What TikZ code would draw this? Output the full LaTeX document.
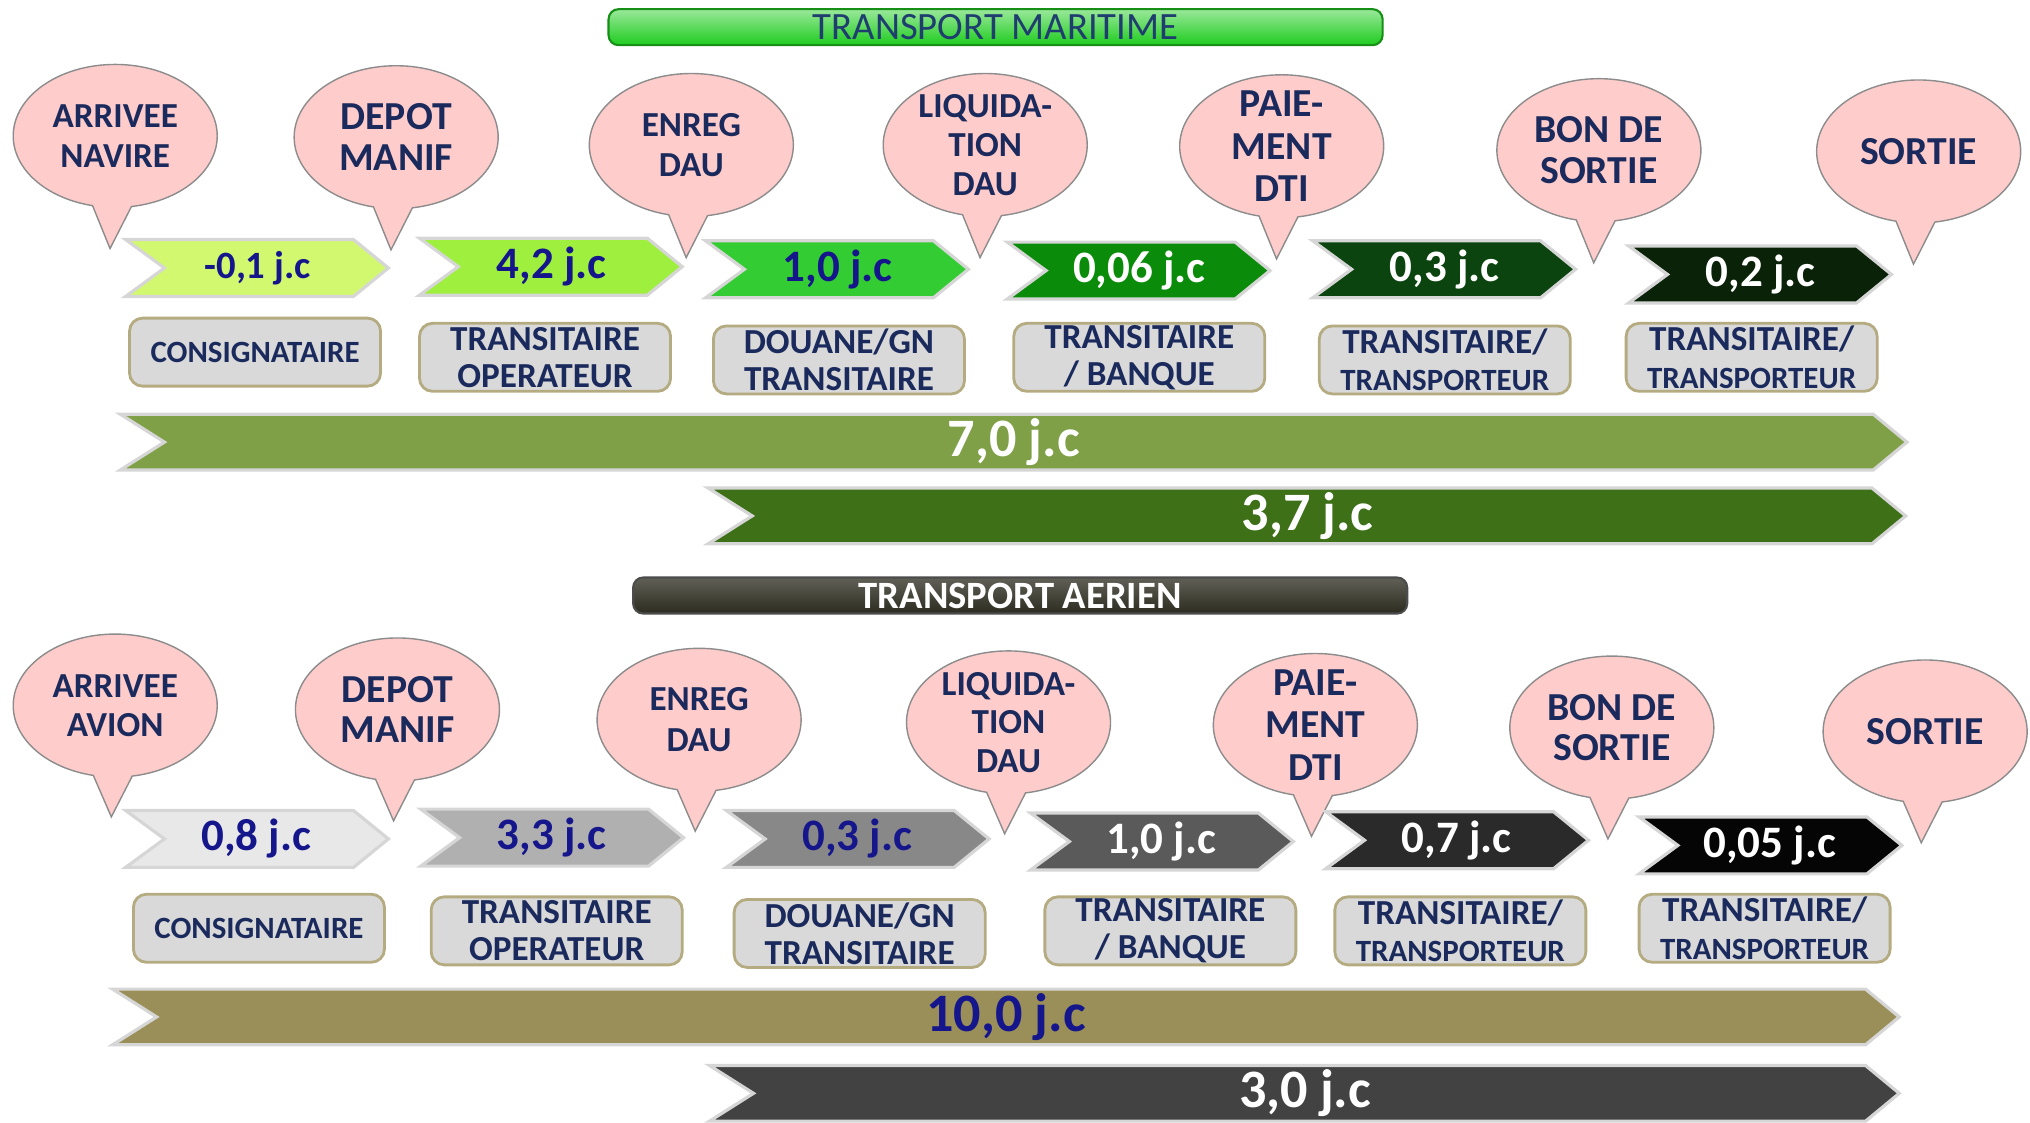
\documentclass[tikz,border=0pt]{standalone}
\usepackage{fontspec}
\setmainfont{Carlito}
\usetikzlibrary{shapes.callouts}

\definecolor{bubblepink}{HTML}{FFCCCC}
\definecolor{bubbleline}{HTML}{8C8C8C}
\definecolor{navy}{HTML}{1B2A5C}
\definecolor{jcblue}{HTML}{16168C}
\definecolor{boxfill}{HTML}{D9D9D9}
\definecolor{boxline}{HTML}{B5AB80}
% maritime steps
\definecolor{mar1}{HTML}{D2F870}
\definecolor{mar2}{HTML}{9FEF3F}
\definecolor{mar3}{HTML}{33CC33}
\definecolor{mar4}{HTML}{0A8C0A}
\definecolor{mar5}{HTML}{0C4410}
\definecolor{mar6}{HTML}{0A2208}
\definecolor{martot}{HTML}{80A048}
\definecolor{marcut}{HTML}{3E7018}
% aerien steps
\definecolor{aer1}{HTML}{E8E8E8}
\definecolor{aer2}{HTML}{B0B0B0}
\definecolor{aer3}{HTML}{888888}
\definecolor{aer4}{HTML}{5A5A5A}
\definecolor{aer5}{HTML}{2A2A2A}
\definecolor{aer6}{HTML}{050505}
\definecolor{aertot}{HTML}{9A8F58}
\definecolor{aercut}{HTML}{424242}
\definecolor{margreen}{HTML}{1ECC1E}
\definecolor{martext}{HTML}{1F3D6E}
\definecolor{aerdark}{HTML}{2B2B1F}

\begin{document}
\begin{tikzpicture}[
		x=0.12946mm,
		y=-0.12946mm,
		every node/.style={font=\bfseries},
		bubble/.style={ellipse callout, draw=bubbleline, fill=bubblepink, line width=0.4pt,
			minimum width=20.4mm, minimum height=14.3mm, inner sep=0pt, callout pointer arc=22},
		bubble text/.style={text=navy, align=center, inner sep=0pt},
		chevron/.style={draw=black!16, line width=0.9pt},
		step label/.style={inner sep=0pt},
		actor/.style={draw=boxline, fill=boxfill, rounded corners=1.3mm, line width=0.8pt,
			minimum width=25.1mm, minimum height=6.8mm, inner sep=0pt, text=navy, align=center,
			font=\bfseries\fontsize{10}{10.6}\selectfont},
		title bar/.style={rounded corners=1mm, minimum width=77.4mm, minimum height=3.6mm,
			inner sep=0pt, line width=0.6pt}
		]
	\useasboundingbox (0,0) rectangle (1568,867);

	% Titles
	\node[title bar, draw=margreen!70!black, top color=margreen!45!white, bottom color=margreen,
		text=martext, font=\fontsize{11}{11}\selectfont] (tmar) at (769,21) {TRANSPORT MARITIME};
	\node[title bar, draw=black!70, top color=aerdark!75!white, bottom color=aerdark,
		text=white, font=\bfseries\fontsize{11}{11}\selectfont] (taer) at (788,460) {TRANSPORT AERIEN};

	% Maritime bubbles
	\foreach \x/\y/\fs/\ls/\txt [count=\i] in {
		89/105/10/11.2/{ARRIVEE\\NAVIRE},
		306/106/11.3/11.6/{DEPOT\\MANIF},
		534/112/10/11.6/{ENREG\\DAU},
		761/112/10/11/{LIQUIDA-\\TION\\DAU},
		990/113/11.3/12/{PAIE-\\MENT\\DTI},
		1235/116/11.3/11.6/{BON DE\\SORTIE},
		1482/117/11.3/11.6/{SORTIE}}{
		\node[bubble, callout absolute pointer={(\x-4,\y+87)}] (mb\i) at (\x,\y) {};
		\node[bubble text, font=\bfseries\fontsize{\fs}{\ls}\selectfont] (mbt\i) at (mb\i.center) {\txt};
	}

	% Aerien bubbles
	\foreach \x/\y/\fs/\ls/\txt [count=\i] in {
		89/545/10/11.2/{ARRIVEE\\AVION},
		307/548/11.3/11.6/{DEPOT\\MANIF},
		540/556/10/11.6/{ENREG\\DAU},
		779/558/10/11/{LIQUIDA-\\TION\\DAU},
		1016/560/11.3/12/{PAIE-\\MENT\\DTI},
		1245/562/11.3/11.6/{BON DE\\SORTIE},
		1487/565/11.3/11.6/{SORTIE}}{
		\node[bubble, callout absolute pointer={(\x-3,\y+86)}] (ab\i) at (\x,\y) {};
		\node[bubble text, font=\bfseries\fontsize{\fs}{\ls}\selectfont] (abt\i) at (ab\i.center) {\txt};
	}

	% Maritime steps
	\foreach \x/\y/\col/\tcol/\fs/\txt [count=\i] in {
		97/185/mar1/jcblue/11/{-0,1 j.c},
		324/184/mar2/jcblue/12.8/{4,2 j.c},
		545/186/mar3/jcblue/12.8/{1,0 j.c},
		778/187/mar4/white/12.8/{0,06 j.c},
		1014/186/mar5/white/12.8/{0,3 j.c},
		1258/190/mar6/white/12.8/{0,2 j.c}}{
		\draw[chevron, fill=\col]
			(\x,\y) -- (\x+176,\y) -- (\x+203,\y+22) -- (\x+176,\y+44) -- (\x,\y+44) -- (\x+30,\y+22) -- cycle;
		\node[step label, text=\tcol, font=\bfseries\fontsize{\fs}{\fs}\selectfont] (ms\i) at (\x+102,\y+22) {\txt};
	}

	% Aerien steps
	\foreach \x/\y/\col/\tcol/\fs/\txt [count=\i] in {
		97/626/aer1/jcblue/12.8/{0,8 j.c},
		325/625/aer2/jcblue/12.8/{3,3 j.c},
		561/626/aer3/jcblue/12.8/{0,3 j.c},
		796/628/aer4/white/12.8/{1,0 j.c},
		1024/627/aer5/white/12.8/{0,7 j.c},
		1266/631/aer6/white/12.8/{0,05 j.c}}{
		\draw[chevron, fill=\col]
			(\x,\y) -- (\x+176,\y) -- (\x+203,\y+22) -- (\x+176,\y+44) -- (\x,\y+44) -- (\x+30,\y+22) -- cycle;
		\node[step label, text=\tcol, font=\bfseries\fontsize{\fs}{\fs}\selectfont] (as\i) at (\x+101,\y+22) {\txt};
	}

	% Actors
	\foreach \x/\y/\txt [count=\i] in {
		197/272/{\fontsize{8.8}{10}\selectfont CONSIGNATAIRE},
		421/276/{TRANSITAIRE\\OPERATEUR},
		648/278/{DOUANE/GN\\TRANSITAIRE},
		880/276/{TRANSITAIRE\\/ BANQUE},
		1116/278/{TRANSITAIRE/\\\fontsize{8.8}{10}\selectfont TRANSPORTEUR},
		1353/276/{TRANSITAIRE/\\\fontsize{8.8}{10}\selectfont TRANSPORTEUR}}{
		\node[actor] (ma\i) at (\x,\y) {\txt};
	}
	\foreach \x/\y/\txt [count=\i] in {
		200/717/{\fontsize{8.8}{10}\selectfont CONSIGNATAIRE},
		430/719/{TRANSITAIRE\\OPERATEUR},
		664/721/{DOUANE/GN\\TRANSITAIRE},
		904/719/{TRANSITAIRE\\/ BANQUE},
		1128/719/{TRANSITAIRE/\\\fontsize{8.8}{10}\selectfont TRANSPORTEUR},
		1363/717/{TRANSITAIRE/\\\fontsize{8.8}{10}\selectfont TRANSPORTEUR}}{
		\node[actor] (aa\i) at (\x,\y) {\txt};
	}

	% Totals
	\foreach \xa/\xb/\y/\col/\tcol/\lx/\txt [count=\i] in {
		93/1473/320/martot/white/783/{7,0 j.c},
		547/1472/377/marcut/white/1010/{3,7 j.c},
		87/1467/764/aertot/jcblue/777/{10,0 j.c},
		548/1467/823/aercut/white/1008/{3,0 j.c}}{
		\draw[chevron, fill=\col]
			(\xa,\y) -- (\xb-26,\y) -- (\xb,\y+21.5) -- (\xb-26,\y+43) -- (\xa,\y+43) -- (\xa+34,\y+21.5) -- cycle;
		\node[step label, text=\tcol, font=\bfseries\fontsize{15.4}{15.4}\selectfont] (tot\i) at (\lx,\y+21.5) {\txt};
	}

\end{tikzpicture}
\end{document}
